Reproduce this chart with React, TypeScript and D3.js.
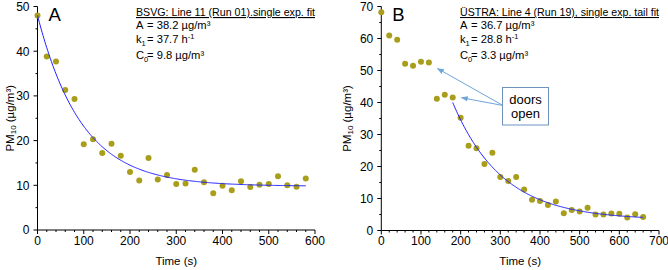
import React from "react";
import * as d3 from "d3";

// ---------- data ----------
const timeA = [0, 20, 40, 60, 80, 100, 120, 140, 160, 180, 200, 220, 240, 260, 280, 300, 320, 340, 360, 380, 400, 420, 440, 460, 480, 500, 520, 540, 560, 580];
const pmA = [48.0, 38.8, 37.7, 31.3, 29.3, 19.2, 20.3, 17.2, 19.3, 16.6, 13.0, 11.1, 16.1, 11.3, 12.3, 10.3, 10.4, 13.5, 10.7, 8.2, 9.9, 8.9, 10.9, 9.6, 10.1, 10.3, 12.0, 10.0, 9.7, 11.5];

const timeB = [0, 20, 40, 60, 80, 100, 120, 140, 160, 180, 200, 220, 240, 260, 280, 300, 320, 340, 360, 380, 400, 420, 440, 460, 480, 500, 520, 540, 560, 580, 600, 620, 640, 660];
const pmB = [68.2, 60.9, 59.6, 52.1, 51.5, 52.7, 52.5, 41.2, 42.4, 41.6, 35.2, 26.5, 25.7, 20.8, 24.3, 16.7, 15.5, 16.7, 12.8, 9.6, 9.2, 8.0, 9.1, 5.4, 6.4, 5.9, 7.1, 5.0, 5.0, 5.3, 5.2, 4.1, 5.1, 4.2];

// fit parameters: [A (µg/m³), k1 (1/h), C0 (µg/m³), fit start (s), fit end (s)]
const fitA = [38.2, 37.7, 9.8, 0, 580];
const fitB = [36.7, 28.8, 3.3, 180, 660];

const xTicksA = [0, 100, 200, 300, 400, 500, 600];
const yTicksA = [0, 10, 20, 30, 40, 50];
const xTicksB = [0, 100, 200, 300, 400, 500, 600, 700];
const yTicksB = [0, 10, 20, 30, 40, 50, 60, 70];

const titleA = "BSVG: Line 11 (Run 01).single exp. fit";
const titleB = "ÜSTRA: Line 4 (Run 19), single exp. tail fit";
const paramA = ["38.2", "37.7", "9.8"];
const paramB = ["36.7", "28.8", "3.3"];

const FONT = "'Liberation Sans', Arial, sans-serif";
const DOT = "#a89e1c";
const LINE = "#1f1fff";
const ARROW = "#6fa6dc";

type PanelProps = {
  x0: number; x1: number; y0: number; y1: number;
  xMax: number; yMax: number;
  xTicks: number[]; yTicks: number[];
  times: number[]; values: number[];
  fit: number[];
  label: string; title: string; params: string[];
  textX: number; titleW: number; titleFs: number; ylabelX: number;
};

function Panel(p: PanelProps) {
  const x = d3.scaleLinear().domain([0, p.xMax]).range([p.x0, p.x1]);
  const y = d3.scaleLinear().domain([0, p.yMax]).range([p.y0, p.y1]);
  const [A, k1, C0, ts, te] = p.fit;
  const k = k1 / 3600;
  const fitPts = d3.range(ts, te + 0.001, 2).map((t) => [t, C0 + A * Math.exp(-k * (t - ts))] as [number, number]);
  const line = d3.line<[number, number]>().x((d) => x(d[0])).y((d) => y(d[1]));
  const xMinor = d3.range(0, p.xMax + 0.001, 20).filter((v) => v % 100 !== 0);
  const yMinor = d3.range(5, p.yMax, 10);
  const ymid = (p.y0 + p.y1) / 2;
  const xmid = (p.x0 + p.x1) / 2;
  const tx = p.textX;
  const fs = 11.2;
  const eq = tx + 11;
  return (
    <g fontFamily={FONT}>
      {/* axes */}
      <line x1={p.x0} x2={p.x1} y1={p.y0} y2={p.y0} stroke="#000" strokeWidth={1} />
      <line x1={p.x0} x2={p.x0} y1={p.y0} y2={p.y1} stroke="#000" strokeWidth={1} />
      {p.xTicks.map((t) => (
        <g key={"xt" + t}>
          <line x1={x(t)} x2={x(t)} y1={p.y0} y2={p.y0 + 4} stroke="#000" />
          <text x={x(t)} y={p.y0 + 14.5} fontSize={12} textAnchor="middle">{t}</text>
        </g>
      ))}
      {xMinor.map((t) => (
        <line key={"xm" + t} x1={x(t)} x2={x(t)} y1={p.y0} y2={p.y0 + 2} stroke="#000" />
      ))}
      {p.yTicks.map((t) => (
        <g key={"yt" + t}>
          <line x1={p.x0 - 4} x2={p.x0} y1={y(t)} y2={y(t)} stroke="#000" />
          <text x={p.x0 - 8} y={y(t)} dy="0.36em" fontSize={12} textAnchor="end">{t}</text>
        </g>
      ))}
      {yMinor.map((t) => (
        <line key={"ym" + t} x1={p.x0 - 2} x2={p.x0} y1={y(t)} y2={y(t)} stroke="#000" />
      ))}
      {/* axis titles */}
      <text x={xmid} y={265} fontSize={11.5} textAnchor="middle">Time (s)</text>
      <text transform={`translate(${p.ylabelX},${ymid}) rotate(-90)`} fontSize={11.5} textAnchor="middle">
        PM<tspan fontSize={8} dy={2}>10</tspan><tspan dy={-2}> (µg/m³)</tspan>
      </text>
      {/* data */}
      {p.times.map((t, i) => (
        <circle key={"d" + i} cx={x(t)} cy={y(p.values[i])} r={3} fill={DOT} />
      ))}
      <path d={line(fitPts) || ""} fill="none" stroke={LINE} strokeWidth={1} />
      {/* panel label */}
      <text x={p.x0 + 11} y={21} fontSize={18.5}>{p.label}</text>
      {/* annotation */}
      <text x={tx} y={16} fontSize={p.titleFs} textDecoration="underline" textLength={p.titleW} lengthAdjust="spacingAndGlyphs">{p.title}</text>
      <text x={tx} y={29.3} fontSize={fs}>A</text>
      <text x={eq} y={29.3} fontSize={fs}>= {p.params[0]} µg/m³</text>
      <text x={tx} y={43.3} fontSize={fs}>k<tspan fontSize={7.5} dy={2.5}>1</tspan></text>
      <text x={eq} y={43.3} fontSize={fs}>= {p.params[1]} h<tspan fontSize={7.5} dy={-4}>-1</tspan></text>
      <text x={tx} y={59.3} fontSize={fs}>C<tspan fontSize={7.5} dy={2.5}>0</tspan></text>
      <text x={eq} y={59.3} fontSize={fs}>= {p.params[2]} µg/m³</text>
    </g>
  );
}

export default function App() {
  return (
    <svg width={668} height={270} style={{ position: "absolute", left: 0, top: 0, background: "#fff" }}>
      <defs>
        <marker id="ah" viewBox="0 0 10 10" refX={9} refY={5} markerWidth={7} markerHeight={7} orient="auto" markerUnits="userSpaceOnUse">
          <path d="M0,1 L10,5 L0,9 Z" fill={ARROW} />
        </marker>
      </defs>
      <rect width={668} height={270} fill="#fff" />
      <Panel x0={37.5} x1={315} y0={230} y1={6.5} xMax={600} yMax={50}
        xTicks={xTicksA} yTicks={yTicksA} times={timeA} values={pmA} fit={fitA}
        label="A" title={titleA} params={paramA} textX={136} titleW={179} titleFs={11.2} ylabelX={13.5} />
      <Panel x0={381.3} x1={659} y0={230.5} y1={6.5} xMax={700} yMax={70}
        xTicks={xTicksB} yTicks={yTicksB} times={timeB} values={pmB} fit={fitB}
        label="B" title={titleB} params={paramB} textX={460} titleW={199} titleFs={10.6} ylabelX={351} />
      {/* doors open callout */}
      <line x1={503} y1={105.5} x2={437.5} y2={68.5} stroke={ARROW} strokeWidth={1} markerEnd="url(#ah)" />
      <line x1={503} y1={105.5} x2={461.5} y2={97.7} stroke={ARROW} strokeWidth={1} markerEnd="url(#ah)" />
      <rect x={502.5} y={87.5} width={46} height={37.5} fill="#fff" stroke="#6f93bd" strokeWidth={1} />
      <text x={525.5} y={103.5} fontSize={13} textAnchor="middle" fontFamily={FONT}>doors</text>
      <text x={525.5} y={118} fontSize={13} textAnchor="middle" fontFamily={FONT}>open</text>
    </svg>
  );
}
